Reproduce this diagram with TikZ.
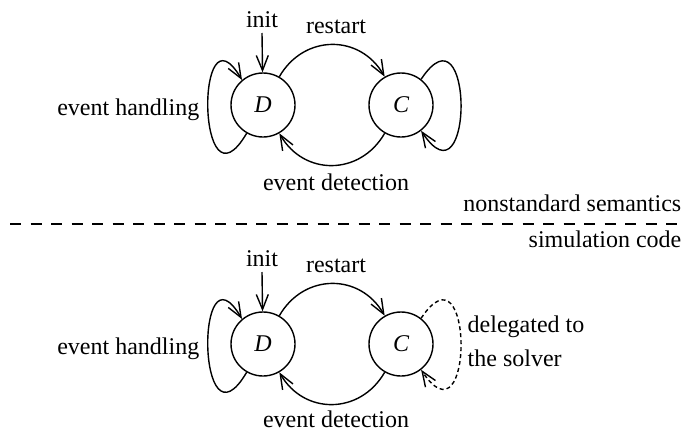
\documentclass[tikz,border=0pt]{standalone}
\usepackage{fontspec}
\setmainfont{Liberation Serif}
\newfontfamily\timesfont{Liberation Serif}
\usetikzlibrary{arrows.meta}
\begin{document}
\begin{tikzpicture}[x=0.5pt,y=0.5pt,line width=0.7pt,
  font=\timesfont\fontsize{12}{14.4}\selectfont,
  state/.style={circle,draw,minimum size=32pt,inner sep=0pt,font=\timesfont\fontsize{12}{14.4}\selectfont\itshape},
  lbl/.style={inner sep=0pt},
  arr/.style={-{Straight Barb[length=7.5pt,width=6pt]}},
  sep/.style={line width=1.2pt,dash pattern=on 5.5pt off 4.75pt},
  deleg/.style={dash pattern=on 2pt off 1.5pt}]
\useasboundingbox (0,0) rectangle (696,430);
% ---------- upper graph ----------
\node[state] (D1) at (263,325) {D};
\node[state] (C1) at (401,325) {C};
\node[lbl,anchor=base] (i1) at (262,403) {init};
\coordinate (i1s) at (262,397);
\draw[arr] (i1s) -- (D1);
\node[lbl,anchor=base] (r1) at (336,397) {restart};
\draw[arr] (D1.60) to[out=60,in=120,looseness=1.2] (C1.120);
\draw[arr] (C1.240) to[out=240,in=300,looseness=1.2] (D1.300);
\node[lbl,anchor=base] (e1) at (336,240) {event detection};
\draw[arr] (D1.240) .. controls +(-50,-85) and +(-47,80) .. (D1.130);
\node[lbl,anchor=base east] (h1) at (200,315) {event handling};
\draw[arr] (C1.52) .. controls +(53,80) and +(53,-80) .. (C1.-52);
% ---------- separator ----------
\coordinate (dl) at (10,206);
\coordinate (dr) at (680,206);
\draw[sep] (dl) -- (dr);
\node[lbl,anchor=base east] (ns) at (682,219) {nonstandard semantics};
\node[lbl,anchor=base east] (sc) at (682,183) {simulation code};
% ---------- lower graph ----------
\node[state] (D2) at (263,86) {D};
\node[state] (C2) at (401,86) {C};
\node[lbl,anchor=base] (i2) at (262,164) {init};
\coordinate (i2s) at (262,158);
\draw[arr] (i2s) -- (D2);
\node[lbl,anchor=base] (r2) at (336,158) {restart};
\draw[arr] (D2.60) to[out=60,in=120,looseness=1.2] (C2.120);
\draw[arr] (C2.240) to[out=240,in=300,looseness=1.2] (D2.300);
\node[lbl,anchor=base] (e2) at (336,3) {event detection};
\draw[arr] (D2.240) .. controls +(-50,-85) and +(-47,80) .. (D2.130);
\node[lbl,anchor=base east] (h2) at (200,76) {event handling};
\draw[arr,deleg] (C2.52) .. controls +(53,80) and +(53,-80) .. (C2.-52);
\node[lbl,anchor=base west] (g1) at (467,98) {delegated to};
\node[lbl,anchor=base west] (g2) at (467,64) {the solver};
\end{tikzpicture}
\end{document}
